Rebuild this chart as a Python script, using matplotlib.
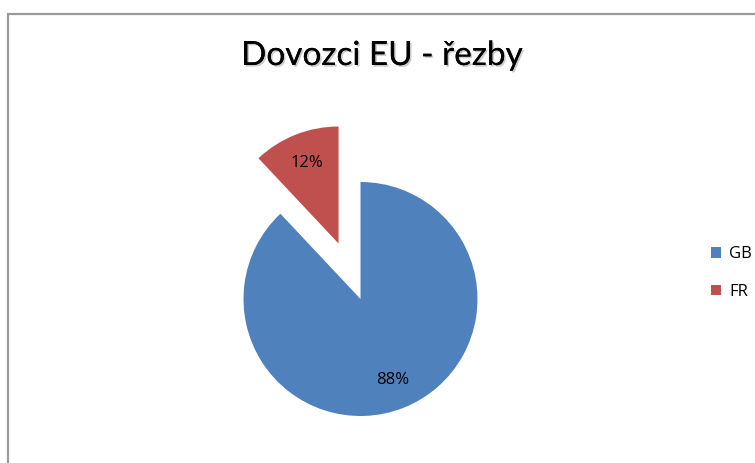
import matplotlib.pyplot as plt
import matplotlib.patheffects as pe
from matplotlib.patches import Rectangle

countries = ['GB', 'FR']
shares = [88, 12]
colors = ['#4F81BD', '#C0504D']
explode_frac = [0, 0.51]  # fraction of radius

W, H = 755, 463
radius = 117
fig = plt.figure(figsize=(W / 100, H / 100), dpi=100)
fig.patch.set_facecolor('white')

# chart border (gray frame, cut off on right and bottom)
fig.patches.append(Rectangle((8 / W, -0.1), 1.2, 1.1 - 14 / H, transform=fig.transFigure,
                             fill=False, edgecolor='#9a9a9a', linewidth=1.6))

ax = fig.add_axes([0, 0, 1, 1])

# matplotlib's explode is in data units, so scale by the radius
wedges, texts, autotexts = ax.pie(
    shares, colors=colors, explode=[e * radius for e in explode_frac], startangle=90,
    counterclock=False, center=(360.5, H - 299), radius=radius, autopct='%d%%',
    pctdistance=0.74, wedgeprops=dict(linewidth=0), frame=True,
    textprops=dict(fontsize=12, family='Open Sans', color='black'))
ax.set_xlim(0, W)
ax.set_ylim(0, H)
ax.set_aspect('equal')
ax.axis('off')

fig.text(382 / W, 1 - 56 / H, 'Dovozci EU - řezby', ha='center', va='center',
         fontsize=24, family='Lato', color='black',
         path_effects=[pe.withSimplePatchShadow(offset=(1.2, -1.2), shadow_rgbFace='#999999', alpha=0.5),
                       pe.Normal()])

leg = fig.legend(wedges, countries, loc='center left', bbox_to_anchor=(696 / W, 1 - 273 / H),
                 frameon=False, prop=dict(family='Open Sans', size=12),
                 handlelength=0.6, handleheight=0.6, handletextpad=0.5, labelspacing=1.3)

fig.savefig('out.png', dpi=100, facecolor='white')
